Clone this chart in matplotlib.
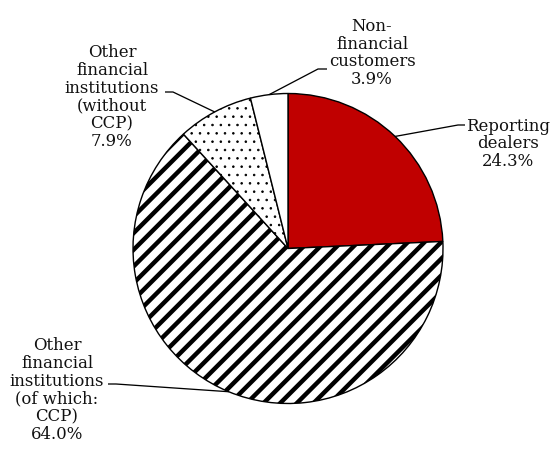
import numpy as np
import matplotlib
matplotlib.use("Agg")
import matplotlib.pyplot as plt

# Counterparty breakdown (share of total, %)
categories = [
    "Reporting\ndealers",
    "Other\nfinancial\ninstitutions\n(of which:\nCCP)",
    "Other\nfinancial\ninstitutions\n(without\nCCP)",
    "Non-\nfinancial\ncustomers",
]
shares = [24.3, 64.0, 7.9, 3.9]

face_colors = ["#C00000", "white", "white", "white"]
hatches = [None, "//", "..", None]
hatch_widths = [1.0, 3.2, 0.6, 1.0]

DPI = 100
W, H = 550, 450
fig = plt.figure(figsize=(W / DPI, H / DPI), dpi=DPI)
ax = fig.add_axes([0, 0, 1, 1])

plt.rcParams["font.family"] = ["DejaVu Serif"]

def px(v):
    return v * 72.0 / DPI

cx, cy, r = 288.0, H - 248.5, 155.0

wedges, _ = ax.pie(
    shares,
    colors=face_colors,
    startangle=90,
    counterclock=False,
    center=(cx, cy),
    radius=r,
    wedgeprops=dict(edgecolor="black", linewidth=px(1.4)),
    frame=False,
)
for w, h, hw in zip(wedges, hatches, hatch_widths):
    if h:
        if hasattr(w, "set_hatch_linewidth"):
            w.set_hatch_linewidth(hw)
        else:
            plt.rcParams["hatch.linewidth"] = hw
        w.set_hatch(h)

ax.set_xlim(0, W)
ax.set_ylim(0, H)
ax.set_aspect("equal")
ax.axis("off")

# label centre, leader elbow and leader end (x, y from top)
label_layout = [
    ((508, 144), (458, 125), (465, 125)),
    ((57, 390), (116, 384), (108, 384)),
    ((112, 97), (173, 92), (165, 92)),
    ((372, 53), (318, 69), (327, 69)),
]

for w, name, val, (txt, elbow, end) in zip(wedges, categories, shares, label_layout):
    mid = np.deg2rad(0.5 * (w.theta1 + w.theta2))
    x0 = cx + r * np.cos(mid)
    y0 = cy + r * np.sin(mid)
    ax.plot([x0, elbow[0], end[0]], [y0, H - elbow[1], H - end[1]],
            color="black", lw=px(1.3), solid_capstyle="butt", zorder=5)
    ax.text(txt[0], H - txt[1], f"{name}\n{val:.1f}%", ha="center", va="center",
            fontsize=px(16.5), linespacing=1.05, color="#111111")

fig.savefig("out.png", dpi=DPI)
